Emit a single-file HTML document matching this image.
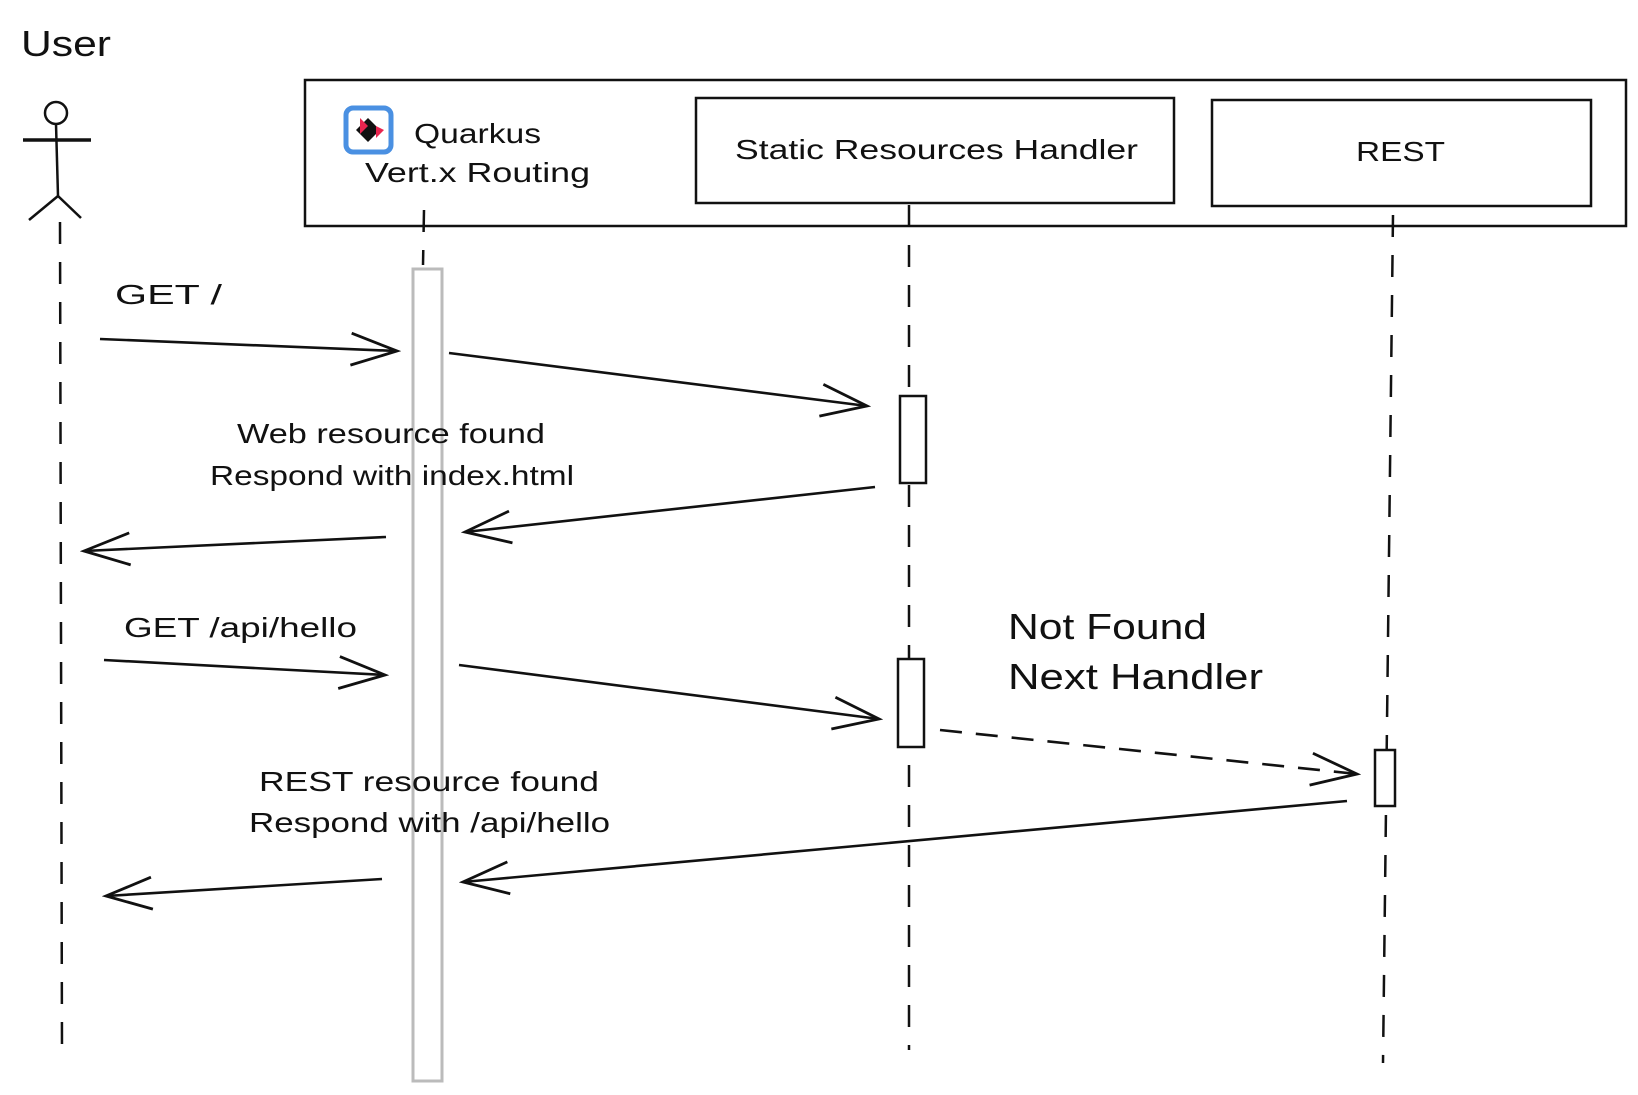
<!DOCTYPE html>
<html><head><meta charset="utf-8"><style>
html,body{margin:0;padding:0;background:#fff;}
svg{display:block;}
text{font-family:"Liberation Sans",sans-serif;fill:#111;}
</style></head><body>
<svg width="1638" height="1095" viewBox="0 0 1638 1095" xmlns="http://www.w3.org/2000/svg">
<defs>
<marker id="a" markerUnits="userSpaceOnUse" markerWidth="52" markerHeight="40" viewBox="0 0 52 40" refX="48" refY="20" orient="auto">
<path d="M2,4 L48,20 L2,36" fill="none" stroke="#111" stroke-width="2.8"/>
</marker>
</defs>
<g fill="none" stroke="#111" stroke-width="2.5">
<rect x="305" y="80" width="1321" height="146"/>
<rect x="696" y="98" width="478" height="105"/>
<rect x="1212" y="100" width="379" height="106"/>
<circle cx="56" cy="113" r="11"/>
<line x1="23" y1="140" x2="91" y2="140" stroke-width="3.5"/>
<line x1="56" y1="124" x2="58" y2="196"/>
<line x1="58" y1="196" x2="29" y2="220"/>
<line x1="58" y1="196" x2="81" y2="218"/>
<g stroke-dasharray="22,18">
<line x1="60" y1="222" x2="62" y2="1053"/>
<line x1="424" y1="210" x2="423" y2="265"/>
<line x1="909" y1="205" x2="909" y2="1050"/>
<line x1="1393" y1="215" x2="1383" y2="1063"/>
</g>
<rect x="413" y="269" width="29" height="812" stroke="#bbb" fill="#fff" stroke-width="3"/>
<rect x="900" y="396" width="26" height="87" fill="#fff"/>
<rect x="898" y="659" width="26" height="88" fill="#fff"/>
<rect x="1375" y="750" width="20" height="56" fill="#fff"/>
<g stroke-width="2.6" marker-end="url(#a)">
<line x1="100" y1="339" x2="397" y2="351"/>
<line x1="449" y1="353" x2="867" y2="406"/>
<line x1="875" y1="487" x2="465" y2="532"/>
<line x1="386" y1="537" x2="84" y2="551"/>
<line x1="104" y1="660" x2="385" y2="675"/>
<line x1="459" y1="665" x2="879" y2="719"/>
<line x1="940" y1="730" x2="1357" y2="774" stroke-dasharray="22,14"/>
<line x1="1347" y1="801" x2="463" y2="882"/>
<line x1="382" y1="879" x2="106" y2="896"/>
</g>
</g>
<rect x="346" y="108" width="45" height="44" rx="7" fill="none" stroke="#4a90e2" stroke-width="5"/>
<polygon points="368,118 380,130 368,142 356,130" fill="#111"/>
<polygon points="360,118 368,126 360,134" fill="#e8254f"/>
<polygon points="376,126 384,130 376,138" fill="#e8254f"/>
<text x="21" y="56" font-size="36" textLength="90" lengthAdjust="spacingAndGlyphs">User</text>
<text x="414" y="143" font-size="28" textLength="127" lengthAdjust="spacingAndGlyphs">Quarkus</text>
<text x="365" y="182" font-size="28" textLength="225" lengthAdjust="spacingAndGlyphs">Vert.x Routing</text>
<text x="735" y="159" font-size="28" textLength="403" lengthAdjust="spacingAndGlyphs">Static Resources Handler</text>
<text x="1356" y="161" font-size="28" textLength="89" lengthAdjust="spacingAndGlyphs">REST</text>
<text x="115" y="304" font-size="28" textLength="107" lengthAdjust="spacingAndGlyphs">GET /</text>
<text x="237" y="443" font-size="28" textLength="308" lengthAdjust="spacingAndGlyphs">Web resource found</text>
<text x="210" y="485" font-size="28" textLength="364" lengthAdjust="spacingAndGlyphs">Respond with index.html</text>
<text x="124" y="637" font-size="28" textLength="233" lengthAdjust="spacingAndGlyphs">GET /api/hello</text>
<text x="1008" y="639" font-size="36" textLength="199" lengthAdjust="spacingAndGlyphs">Not Found</text>
<text x="1008" y="689" font-size="36" textLength="255" lengthAdjust="spacingAndGlyphs">Next Handler</text>
<text x="259" y="791" font-size="28" textLength="340" lengthAdjust="spacingAndGlyphs">REST resource found</text>
<text x="249" y="832" font-size="28" textLength="361" lengthAdjust="spacingAndGlyphs">Respond with /api/hello</text>
</svg>
</body></html>
